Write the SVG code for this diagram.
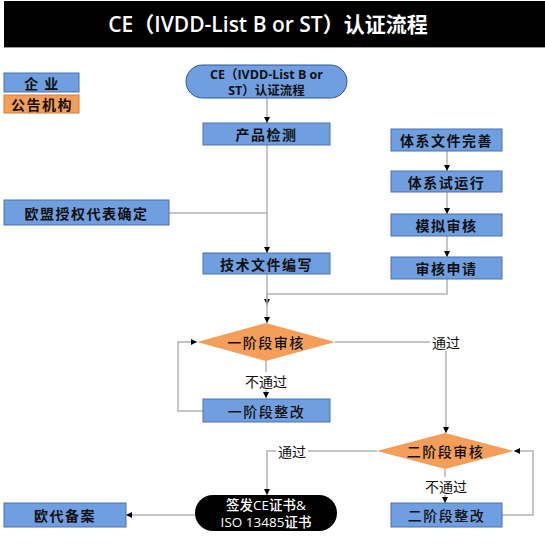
<svg xmlns="http://www.w3.org/2000/svg" width="545" height="544" viewBox="0 0 545 544">
<defs>
<marker id="arr" viewBox="0 0 10 10" refX="10" refY="5" markerWidth="6" markerHeight="6" orient="auto" markerUnits="userSpaceOnUse">
<path d="M0,0 L10,5 L0,10 z" fill="#000"/>
</marker>
<style>
.box{fill:#6f9fe0;stroke:#4a73ad;stroke-width:1}
.org{fill:#f59e5a;stroke:#d27d3a;stroke-width:1}
.dia{fill:#f59e5a;stroke:none}
.t{font-family:"Noto Sans CJK SC","Open Sans",sans-serif;font-size:14px;font-weight:bold;fill:#111;text-anchor:middle;dominant-baseline:central;letter-spacing:1.5px}
.m{font-weight:500}
.lab{font-family:"Noto Sans CJK SC",sans-serif;font-size:14px;fill:#111;text-anchor:middle;dominant-baseline:central}
.lat{font-family:"Open Sans","Noto Sans CJK SC",sans-serif;letter-spacing:0}
.ln{fill:none;stroke:#b3b3b3;stroke-width:1.5}
.lnA{fill:none;stroke:#b3b3b3;stroke-width:1.5;marker-end:url(#arr)}
</style>
</defs>
<rect width="545" height="544" fill="#fff"/>
<g id="title">
<rect x="4" y="1" width="541" height="46" fill="#000"/>
<line x1="4" y1="47.5" x2="545" y2="47.5" stroke="#999" stroke-width="1"/>
<text x="268" y="24" font-family="'Open Sans','Noto Sans CJK SC',sans-serif" font-size="21" font-weight="600" fill="#fff" text-anchor="middle" dominant-baseline="central">CE（IVDD-List B or ST）认证流程</text>
</g>
<g id="connectors">
<path class="lnA" d="M267,98 V123"/>
<path class="lnA" d="M267,145 V253"/>
<path class="ln" d="M169,213 H267"/>
<path class="lnA" d="M447,151 V171"/>
<path class="lnA" d="M447,192 V214"/>
<path class="lnA" d="M447,236 V257"/>
<path class="lnA" d="M267,274 V305"/>
<path class="lnA" d="M447,279 V294 H267 V323"/>
<path class="lnA" d="M266,361 V398"/>
<path class="lnA" d="M203,411 H178 V342 H197"/>
<path class="lnA" d="M335,342 H446 V433"/>
<path class="lnA" d="M445,469 V503"/>
<path class="lnA" d="M502,515 H533 V451 H514"/>
<path class="lnA" d="M377,451 H267 V495"/>
<path class="lnA" d="M195,515 H126"/>
<g id="labels">
<rect x="244" y="372" width="44" height="18" fill="#fff"/>
<text class="lab" x="266" y="381">不通过</text>
<rect x="430" y="334" width="32" height="17" fill="#fff"/>
<text class="lab" x="446" y="342">通过</text>
<rect x="424" y="477" width="44" height="18" fill="#fff"/>
<text class="lab" x="446" y="486">不通过</text>
<rect x="276" y="443" width="32" height="17" fill="#fff"/>
<text class="lab" x="292" y="451">通过</text>
</g>
</g>
<g id="legend-enterprise">
<rect class="box" x="4" y="73" width="75" height="19"/>
<text class="t" x="42" y="82.5">企 业</text>
</g>
<g id="legend-notified">
<rect class="org" x="4" y="95" width="75" height="18"/>
<text class="t" x="42" y="104">公告机构</text>
</g>
<g id="start">
<rect x="186" y="65" width="161" height="33" rx="16.5" fill="#6f9fe0" stroke="#2f5597" stroke-width="1"/>
<text class="t lat" x="266.5" y="74.5" style="font-size:12.5px">CE（IVDD-List B or</text>
<text class="t lat" x="266.5" y="90.5" style="font-size:12.5px">ST）认证流程</text>
</g>
<g id="product-test">
<rect class="box" x="203" y="123" width="127" height="22"/>
<text class="t" x="266.5" y="134">产品检测</text>
</g>
<g id="eu-rep">
<rect class="box" x="4" y="200" width="165" height="25"/>
<text class="t" x="86.5" y="212.5">欧盟授权代表确定</text>
</g>
<g id="tech-doc">
<rect class="box" x="203" y="253" width="127" height="21"/>
<text class="t" x="266.5" y="263.5">技术文件编写</text>
</g>
<g id="qms-docs">
<rect class="box" x="391" y="129" width="111" height="22"/>
<text class="t" x="446.5" y="140">体系文件完善</text>
</g>
<g id="qms-trial">
<rect class="box" x="391" y="171" width="111" height="21"/>
<text class="t" x="446.5" y="181.5">体系试运行</text>
</g>
<g id="mock-audit">
<rect class="box" x="391" y="214" width="111" height="22"/>
<text class="t" x="446.5" y="225">模拟审核</text>
</g>
<g id="audit-apply">
<rect class="box" x="391" y="257" width="111" height="22"/>
<text class="t" x="446.5" y="268">审核申请</text>
</g>
<g id="stage1-audit">
<polygon class="dia" points="197,342 266,323 335,342 266,361"/>
<text class="t m" x="266" y="342">一阶段审核</text>
</g>
<g id="stage1-fix">
<rect class="box" x="203" y="399" width="127" height="23"/>
<text class="t m" x="266.5" y="410.5">一阶段整改</text>
</g>
<g id="stage2-audit">
<polygon class="dia" points="377,451 445,433 514,451 445,469"/>
<text class="t m" x="445.5" y="451">二阶段审核</text>
</g>
<g id="stage2-fix">
<rect class="box" x="391" y="503" width="111" height="24"/>
<text class="t m" x="446.5" y="515">二阶段整改</text>
</g>
<g id="certificate">
<rect x="195" y="495" width="142" height="36" rx="18" fill="#000"/>
<text class="t lat" x="266" y="505" style="fill:#fff;font-weight:500;font-size:13.5px">签发CE证书&amp;</text>
<text class="t lat" x="266" y="522" style="fill:#fff;font-weight:500;font-size:13.5px">ISO 13485证书</text>
</g>
<g id="eu-rep-filing">
<rect class="box" x="4" y="503" width="122" height="24"/>
<text class="t" x="65" y="515">欧代备案</text>
</g>
</svg>
